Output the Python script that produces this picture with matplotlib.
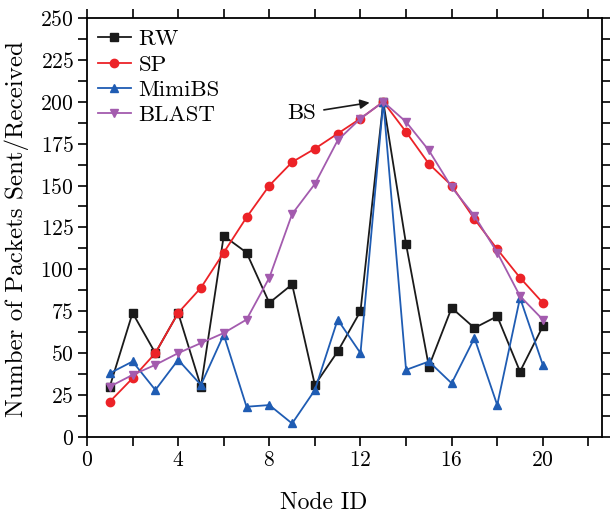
import matplotlib
matplotlib.use("Agg")
import matplotlib.pyplot as plt
from matplotlib.ticker import MultipleLocator

plt.rcParams['font.family'] = ['cmr10', 'DejaVu Serif']
plt.rcParams['axes.formatter.use_mathtext'] = True

nodes = list(range(1, 21))
rw = [30, 74, 50, 74, 30, 120, 110, 80, 91, 31, 51, 75, 200, 115, 42, 77, 65, 72, 39, 66]
sp = [21, 35, 50, 74, 89, 110, 131, 150, 164, 172, 181, 190, 200, 182, 163, 150, 130, 112, 95, 80]
mimibs = [38, 45, 28, 46, 31, 61, 18, 19, 8, 28, 70, 50, 200, 40, 45, 32, 59, 19, 83, 43]
blast = [30, 37, 43, 50, 56, 62, 70, 95, 133, 151, 177, 190, 200, 188, 171, 149, 132, 110, 84, 70]

fig = plt.figure(figsize=(6.1, 5.14), dpi=100)
ax = fig.add_axes([0.1426, 0.150, 0.987 - 0.1426, 0.965 - 0.150])

ax.plot(nodes, rw, color='#1a1a1a', marker='s', ms=5.5, lw=1.3, label='RW')
ax.plot(nodes, sp, color='#ec2227', marker='o', ms=6, lw=1.3, label='SP')
ax.plot(nodes, mimibs, color='#1f5cb3', marker='^', ms=6, lw=1.3, label='MimiBS')
ax.plot(nodes, blast, color='#a35bae', marker='v', ms=6, lw=1.3, label='BLAST')

ax.annotate('BS', xy=(12.4, 199.5), xytext=(9.4, 193), fontsize=16.5,
            ha='center', va='center',
            arrowprops=dict(arrowstyle='-|>', color='#1a1a1a', lw=1.2,
                            shrinkA=4, shrinkB=0, mutation_scale=14))

ax.set_xlim(0, 22.6)
ax.set_ylim(0, 250)
ax.xaxis.set_major_locator(MultipleLocator(4))
ax.xaxis.set_minor_locator(MultipleLocator(2))
ax.yaxis.set_major_locator(MultipleLocator(25))
ax.yaxis.set_minor_locator(MultipleLocator(12.5))
ax.tick_params(which='both', direction='out', top=True, right=True, labelsize=15.5, width=1.2)
ax.tick_params(which='major', length=6.5, pad=3)
ax.tick_params(which='minor', length=6.5)
for s in ax.spines.values():
    s.set_linewidth(1.3)

ax.set_xlabel('Node ID', fontsize=17, va='center')
ax.set_ylabel('Number of Packets Sent/Received', fontsize=18, va='center')
ax.xaxis.set_label_coords(0.46, -0.157)
ax.yaxis.set_label_coords(-0.137, 0.495)

ax.legend(loc='upper left', frameon=False, fontsize=16.5, handlelength=1.4,
          borderaxespad=0.0, borderpad=0.5, labelspacing=0.22, handletextpad=0.35)

fig.savefig('out.png', dpi=100)
